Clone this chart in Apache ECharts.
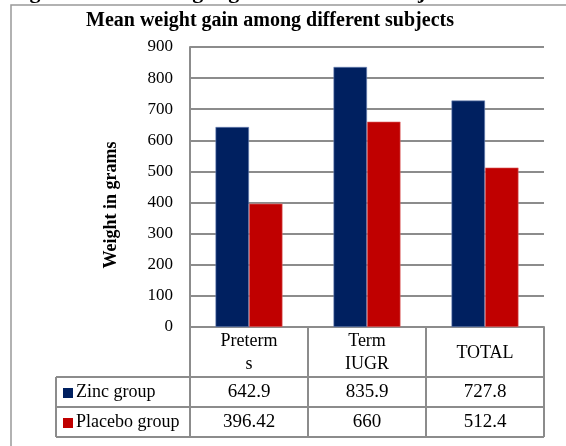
<!DOCTYPE html>
<html>
<head>
<meta charset="utf-8">
<script src="https://cdn.jsdelivr.net/npm/echarts@6/dist/echarts.min.js"></script>
<style>
  html, body { margin: 0; padding: 0; background: #fff; }
  #chart { width: 566px; height: 446px; }
</style>
</head>
<body>
<div id="chart"></div>
<script>
const categories = ['Preterm\ns', 'Term\nIUGR', 'TOTAL'];
const seriesNames = ['Zinc group', 'Placebo group'];
const zincValues = [642.9, 835.9, 727.8];
const placeboValues = [396.42, 660, 512.4];
const yTicks = { min: 0, max: 900, interval: 100 };

const seriesColors = ['#002060', '#C00000'];
const lineColor = '#8c8c8c';
const serif = 'Liberation Serif';

// plot + table geometry
const plotLeft = 190, plotTop = 47, plotWidth = 354, plotHeight = 280;
const plotBottom = plotTop + plotHeight;
const headerBottom = 377, rowHeight = 30, legendLeft = 56;

const chart = echarts.init(document.getElementById('chart'));

const option = {
  animation: false,
  title: {
    text: 'Mean weight gain among different subjects',
    left: 270,
    top: 11,
    textAlign: 'center',
    padding: 0,
    textStyle: { fontFamily: serif, fontSize: 20, fontWeight: 'bold', color: '#000' }
  },
  grid: { left: plotLeft, top: plotTop, width: plotWidth, height: plotHeight },
  xAxis: {
    type: 'category',
    data: categories,
    axisLine: { lineStyle: { color: lineColor, width: 2 } },
    axisTick: { show: false },
    axisLabel: { show: false }
  },
  yAxis: {
    type: 'value',
    min: yTicks.min,
    max: yTicks.max,
    interval: yTicks.interval,
    name: 'Weight in grams',
    nameLocation: 'middle',
    nameGap: 70,
    nameTextStyle: {
      fontFamily: serif, fontSize: 18, fontWeight: 'bold', color: '#000',
      padding: [0, 36, 0, 0]
    },
    axisLine: { show: true, lineStyle: { color: lineColor, width: 2 } },
    axisTick: { show: false },
    axisLabel: { margin: 17, fontFamily: serif, fontSize: 17, color: '#000' },
    splitLine: { lineStyle: { color: lineColor, width: 2 } }
  },
  series: [
    {
      name: seriesNames[0],
      type: 'bar',
      data: zincValues,
      barWidth: 33.5,
      barGap: '0%',
      itemStyle: { color: seriesColors[0], borderColor: '#6f86b8', borderWidth: 0.6 }
    },
    {
      name: seriesNames[1],
      type: 'bar',
      data: placeboValues,
      barWidth: 33.5,
      itemStyle: { color: seriesColors[1], borderColor: '#e07070', borderWidth: 0.6 }
    }
  ]
};

chart.setOption(option);

// data table under the plot
const colWidth = plotWidth / categories.length;
const tableRight = plotLeft + plotWidth;
const tableBottom = headerBottom + rowHeight * seriesNames.length;
const graphics = [];

const hLine = (x1, x2, y) => ({
  type: 'line', shape: { x1, y1: y, x2, y2: y },
  style: { stroke: lineColor, lineWidth: 2 }, z: 10
});
const vLine = (x, y1, y2) => ({
  type: 'line', shape: { x1: x, y1, x2: x, y2 },
  style: { stroke: lineColor, lineWidth: 2 }, z: 10
});

for (let r = 0; r <= seriesNames.length; r++) {
  graphics.push(hLine(legendLeft, tableRight, headerBottom + r * rowHeight));
}
graphics.push(vLine(legendLeft, headerBottom, tableBottom));
for (let c = 0; c <= categories.length; c++) {
  graphics.push(vLine(plotLeft + c * colWidth, plotBottom, tableBottom));
}

categories.forEach((cat, i) => {
  const cx = chart.convertToPixel({ xAxisIndex: 0 }, i);
  graphics.push({
    type: 'text', x: cx, y: (plotBottom + headerBottom) / 2 + 1, z: 10,
    style: {
      text: cat, align: 'center', verticalAlign: 'middle', lineHeight: 23,
      font: '18px "' + serif + '"', fill: '#000'
    }
  });
});

[zincValues, placeboValues].forEach((vals, s) => {
  const cy = headerBottom + rowHeight * s + rowHeight / 2;
  graphics.push({
    type: 'rect', shape: { x: 63, y: cy - 4, width: 10, height: 10 },
    style: { fill: seriesColors[s] }, z: 10
  });
  graphics.push({
    type: 'text', x: 76, y: cy, z: 10,
    style: {
      text: seriesNames[s], align: 'left', verticalAlign: 'middle',
      font: '18px "' + serif + '"', fill: '#000'
    }
  });
  vals.forEach((v, i) => {
    graphics.push({
      type: 'text', x: chart.convertToPixel({ xAxisIndex: 0 }, i), y: cy, z: 10,
      style: {
        text: String(v), align: 'center', verticalAlign: 'middle',
        font: '19px "' + serif + '"', fill: '#000'
      }
    });
  });
});

// outer frame and the cut-off caption line above it
graphics.push({
  type: 'rect', shape: { x: 11, y: 5, width: 600, height: 500 },
  style: { fill: 'none', stroke: '#999', lineWidth: 1.5 }, z: 5
});
graphics.push({
  type: 'text', x: 10, y: 3, z: 5,
  style: {
    text: 'Figure 2: Mean weight gain in different subjects',
    align: 'left', verticalAlign: 'bottom',
    font: 'bold 22px "' + serif + '"', fill: '#000'
  }
});

chart.setOption({ graphic: graphics });

window.addEventListener('resize', () => chart.resize());
</script>
</body>
</html>
